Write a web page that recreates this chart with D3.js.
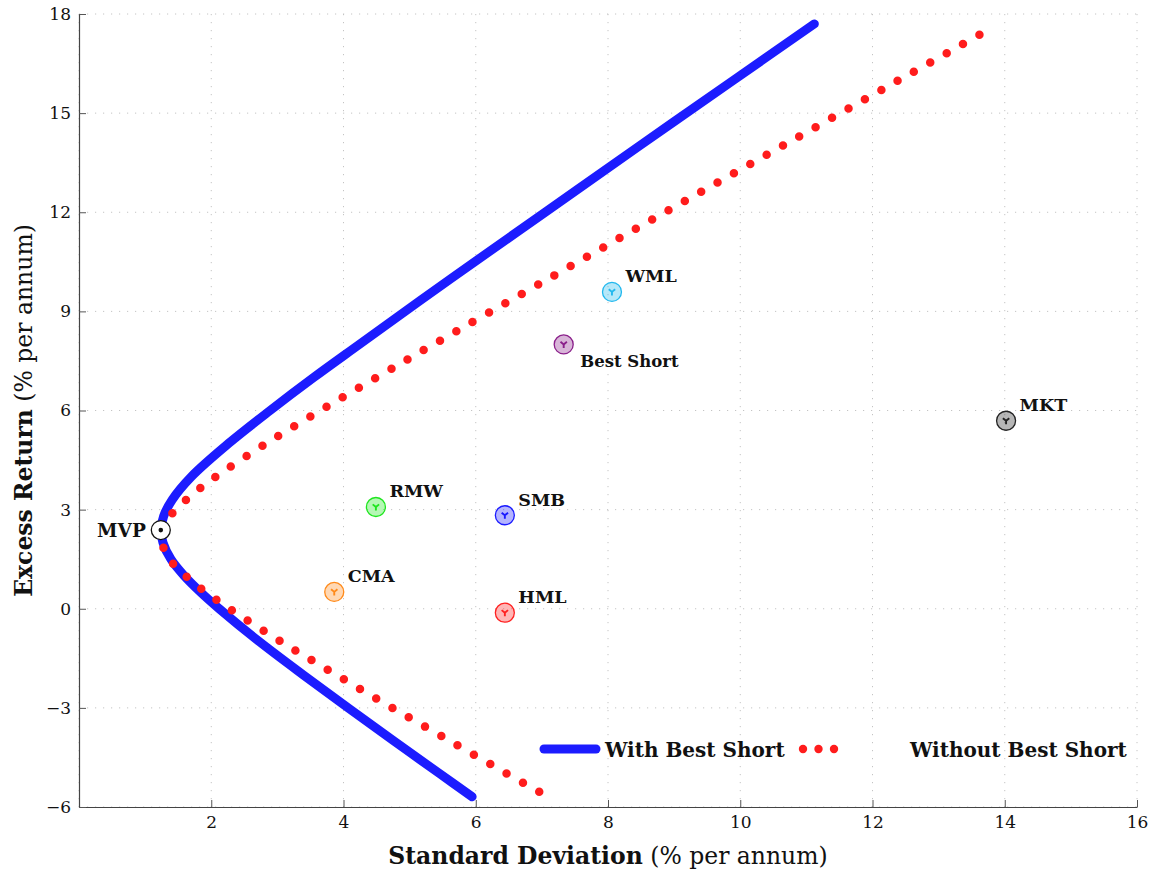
<!DOCTYPE html>
<html>
<head>
<meta charset="utf-8">
<script src="https://cdn.jsdelivr.net/npm/d3@7"></script>
<style>
  body { margin: 0; background: #fff; }
  text { font-family: "DejaVu Serif", serif; fill: #111; }
</style>
</head>
<body>
<svg id="chart" width="1153" height="871"></svg>
<script>
// frontier with the best short asset (sd, excess return), % per annum
const withShortRet = [-5.69, -5, -4, -3, -2, -1, 0, 0.5, 1, 1.5, 2, 2.38, 2.8, 3.3, 4, 5, 6, 7, 8, 10, 12, 14, 16, 17.7];
const withShortSd  = [5.945, 5.46, 4.76, 4.07, 3.39, 2.73, 2.12, 1.84, 1.59, 1.39, 1.27, 1.24, 1.28, 1.41, 1.70, 2.26, 2.89, 3.55, 4.24, 5.63, 7.05, 8.47, 9.90, 11.12];

// frontier without it
const withoutShortRet = [-5.54, -5, -4, -3, -2, -1, 0, 0.5, 1, 1.5, 2.14, 2.8, 3.5, 4, 5, 6, 7, 8, 10, 12, 14, 16, 17.4];
const withoutShortSd  = [6.96, 6.48, 5.61, 4.74, 3.89, 3.06, 2.28, 1.92, 1.61, 1.37, 1.245, 1.38, 1.74, 2.07, 2.83, 3.65, 4.50, 5.36, 7.11, 8.86, 10.63, 12.40, 13.64];

// single assets
const assetNames  = ['WML', 'Best Short', 'MKT', 'RMW', 'SMB', 'CMA', 'HML'];
const assetSd     = [8.06, 7.33, 14.02, 4.49, 6.44, 3.86, 6.44];
const assetRet    = [9.59, 8.00, 5.69, 3.08, 2.83, 0.51, -0.12];
const assetColors = ['#22b8ee', '#8a1f8a', '#222222', '#1ee61e', '#1a1aff', '#ff8a1a', '#ff2020'];
const labelSide   = ['ne', 'se', 'ne', 'ne', 'ne', 'ne', 'ne'];

const mvpSd = 1.237, mvpRet = 2.38;

const xTicks = [2, 4, 6, 8, 10, 12, 14, 16];
const yTicks = [-6, -3, 0, 3, 6, 9, 12, 15, 18];

const svg = d3.select('#chart');
const plotLeft = 79, plotRight = 1137, plotTop = 14, plotBottom = 807;

const x = d3.scaleLinear().domain([0, 16]).range([plotLeft, plotRight]);
const y = d3.scaleLinear().domain([-6, 18]).range([plotBottom, plotTop]);

// grid
const grid = svg.append('g')
  .attr('stroke', '#c4c4c4')
  .attr('stroke-width', 1)
  .attr('stroke-dasharray', '1.2 6.8');
grid.selectAll('line.gx')
  .data([0].concat(xTicks))
  .join('line')
  .attr('class', 'gx')
  .attr('x1', d => x(d)).attr('x2', d => x(d))
  .attr('y1', plotTop).attr('y2', plotBottom);
grid.selectAll('line.gy')
  .data(yTicks)
  .join('line')
  .attr('class', 'gy')
  .attr('x1', plotLeft).attr('x2', plotRight)
  .attr('y1', d => y(d)).attr('y2', d => y(d));

// axes
const xAxis = svg.append('g')
  .attr('transform', `translate(0,${plotBottom})`)
  .call(d3.axisBottom(x).tickValues(xTicks).tickSizeInner(-7).tickSizeOuter(0).tickPadding(9));
const yAxis = svg.append('g')
  .attr('transform', `translate(${plotLeft},0)`)
  .call(d3.axisLeft(y).tickValues(yTicks).tickSizeInner(-7).tickSizeOuter(0).tickPadding(8)
    .tickFormat(d => d < 0 ? '\u2212' + Math.abs(d) : d));
[xAxis, yAxis].forEach(a => {
  a.select('.domain').attr('stroke', '#444').attr('stroke-width', 1.2);
  a.selectAll('.tick line').attr('stroke', '#555').attr('stroke-width', 1);
  a.selectAll('.tick text')
    .attr('font-family', '"DejaVu Serif", serif')
    .attr('font-size', 17)
    .attr('fill', '#111');
});

// frontiers
const line = d3.line()
  .x(d => x(d[0]))
  .y(d => y(d[1]))
  .curve(d3.curveCatmullRom.alpha(0.5));

const withShort = withShortSd.map((s, i) => [s, withShortRet[i]]);
const withoutShort = withoutShortSd.map((s, i) => [s, withoutShortRet[i]]);

svg.append('path')
  .datum(withShort)
  .attr('d', line)
  .attr('fill', 'none')
  .attr('stroke', '#1c1cff')
  .attr('stroke-width', 9)
  .attr('stroke-linecap', 'round');

const dotted = svg.append('path')
  .datum(withoutShort)
  .attr('d', line)
  .attr('fill', 'none')
  .attr('stroke', '#ff1c1c')
  .attr('stroke-width', 8.5)
  .attr('stroke-linecap', 'round');
// spread the dots so one sits at each end of the curve
const len = dotted.node().getTotalLength();
const nDots = Math.round(len / 18.7);
const gap = (len - 2) / nDots;
dotted.attr('stroke-dasharray', `0 ${gap}`);

// assets
const assets = assetNames.map((n, i) => ({
  name: n, sd: assetSd[i], ret: assetRet[i], colour: assetColors[i], side: labelSide[i]
}));

const marks = svg.selectAll('g.asset')
  .data(assets)
  .join('g')
  .attr('class', 'asset')
  .attr('transform', d => `translate(${x(d.sd)},${y(d.ret)})`);

marks.append('circle')
  .attr('r', 9.5)
  .attr('fill', d => d.colour)
  .attr('fill-opacity', 0.33)
  .attr('stroke', d => d.colour)
  .attr('stroke-width', 1.3);

marks.append('path')
  .attr('d', 'M-3.2,-2.6L0,0L3.2,-2.6M0,0L0,3.6')
  .attr('fill', 'none')
  .attr('stroke', d => d.colour)
  .attr('stroke-width', 1.9);

marks.append('text')
  .attr('x', d => d.side === 'se' ? 16.5 : 13.5)
  .attr('y', d => d.side === 'se' ? 22.5 : -9.5)
  .attr('font-size', d => d.side === 'se' ? 16.5 : 17.5)
  .attr('font-weight', 'bold')
  .text(d => d.name);

// minimum variance portfolio
const mvp = svg.append('g')
  .attr('transform', `translate(${x(mvpSd)},${y(mvpRet)})`);
mvp.append('circle')
  .attr('r', 9.5)
  .attr('fill', '#fff')
  .attr('stroke', '#111')
  .attr('stroke-width', 1.3);
mvp.append('circle')
  .attr('r', 2.3)
  .attr('fill', '#111');
mvp.append('text')
  .attr('x', -15)
  .attr('y', 6.5)
  .attr('text-anchor', 'end')
  .attr('font-size', 18.5)
  .attr('font-weight', 'bold')
  .text('MVP');

// legend
const legend = svg.append('g').attr('transform', 'translate(0,749)');
legend.append('line')
  .attr('x1', 544).attr('x2', 596)
  .attr('stroke', '#1c1cff')
  .attr('stroke-width', 9)
  .attr('stroke-linecap', 'round');
legend.append('text')
  .attr('x', 605).attr('y', 7.5)
  .attr('font-size', 20)
  .attr('font-weight', 'bold')
  .text('With Best Short');
legend.selectAll('circle')
  .data([0, 1, 2])
  .join('circle')
  .attr('cx', d => 803 + d * 15.5)
  .attr('r', 4.2)
  .attr('fill', '#ff1c1c');
legend.append('text')
  .attr('x', 910).attr('y', 7.5)
  .attr('font-size', 20)
  .attr('font-weight', 'bold')
  .text('Without Best Short');

// axis titles
const xt = svg.append('text')
  .attr('x', (plotLeft + plotRight) / 2)
  .attr('y', 864)
  .attr('text-anchor', 'middle')
  .attr('font-size', 23.5);
xt.append('tspan').attr('font-weight', 'bold').text('Standard Deviation');
xt.append('tspan').text(' (% per annum)');

const yt = svg.append('text')
  .attr('transform', `translate(32,${(plotTop + plotBottom) / 2}) rotate(-90)`)
  .attr('text-anchor', 'middle')
  .attr('font-size', 23.5);
yt.append('tspan').attr('font-weight', 'bold').text('Excess Return');
yt.append('tspan').text(' (% per annum)');
</script>
</body>
</html>
